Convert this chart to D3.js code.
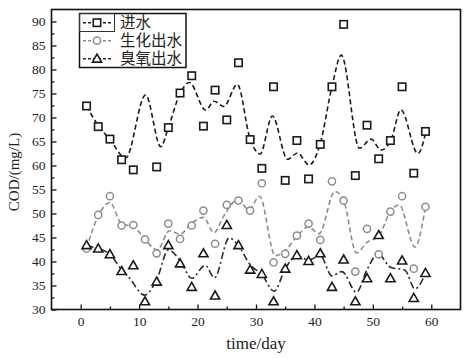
<!DOCTYPE html>
<html>
<head>
<meta charset="utf-8">
<script src="https://cdn.jsdelivr.net/npm/d3@7"></script>
<style>
  html, body { margin: 0; padding: 0; background: #fff; }
  svg { display: block; }
</style>
</head>
<body>
<svg id="chart" width="472" height="359"></svg>
<script>
// ---- data ----
const days = [1,3,5,7,9,11,13,15,17,19,21,23,25,27,29,31,33,35,37,39,41,43,45,47,49,51,53,55,57,59];
const influent = [72.4,68.1,65.5,61.2,59.1,null,59.7,67.9,75.1,78.7,68.2,75.7,69.5,81.4,65.4,59.4,76.4,56.9,65.2,57.2,64.4,76.4,89.4,57.9,68.4,61.4,65.2,76.4,58.4,67.1];
const bioEffluent = [42.7,49.7,53.6,47.5,47.6,44.6,41.7,47.9,44.7,47.5,50.6,43.7,51.8,52.7,50.6,56.3,39.8,41.6,45.4,47.9,44.5,56.7,52.7,37.9,46.8,41.5,50.4,53.6,38.5,51.4];
const ozoneEffluent = [43.4,42.7,41.5,38.0,39.2,31.7,35.8,43.4,39.6,34.7,41.7,32.9,47.6,43.4,38.3,37.4,31.7,38.5,41.3,40.1,41.7,34.7,40.4,31.7,36.5,45.5,36.5,40.2,32.4,37.6];

// smoothed curves as drawn in the picture
const influentFitDays = [1,3,5,7.7,11.1,13.7,15,17,18.6,21.4,22.8,24.5,26.8,29,30.7,32.8,35.4,37.1,39.1,41,43,44.6,47.7,49.7,51.4,53.1,54.8,57.7,59.1];
const influentFit = [72.4,68.3,65.4,61.6,74.7,63.9,67.9,75,77.3,71.5,73.4,72.3,76.9,65.5,62.4,70.3,61.3,62.6,60.1,64.6,76.4,83,63.6,65.5,63.2,65.3,71.6,62.5,67.1];
const bioFitDays = [1,3,5,7,9,11,13.1,15.2,17,19,21,22.8,24.5,26.8,28.8,30.6,33.3,35,37,39,40.8,43.5,45,47.2,49,51,53,54.5,57.2,59];
const bioFit = [42.7,49.5,52.3,47.8,47.3,44.6,42.4,46.4,45.7,48,49.2,46,49.5,52.8,50.8,53.6,41.2,42.3,45.2,47.2,45.8,54.6,52.7,41.8,44,45.3,50.4,51.8,43,51.4];
const ozoneFitDays = [1,3,5,7,8.2,10.9,13,15,17,19,21.3,22.9,25.4,27,29,31,33.1,35,37,39,41,43,44.7,47.2,49,50.9,53,55.5,57.2,59];
const ozoneFit = [43.2,42.7,41.5,38.3,36.8,33,36.2,42.4,40.2,36.5,39.2,36.6,44.9,43.3,39.3,37.3,33.8,38.5,41.2,40.3,41.2,37,37.9,33.6,38.3,41.6,38.8,38.2,34.3,37.5];

const seriesNames = ["进水", "生化出水", "臭氧出水"];
const xTicks = [0,10,20,30,40,50,60];
const yTicks = [30,35,40,45,50,55,60,65,70,75,80,85,90];
const xTitle = "time/day";
const yTitle = "COD/(mg/L)";

// ---- layout ----
const svg = d3.select("#chart");
const mLeft = 51.5, mRight = 460.5, mTop = 9.5, mBottom = 309.5;
const x = d3.scaleLinear().domain([-5, 65]).range([mLeft, mRight]);
const y = d3.scaleLinear().domain([30, 92.5]).range([mBottom, mTop]);

const serif = "'Liberation Serif', 'DejaVu Serif', serif";

// axes (inward ticks)
const xAxis = d3.axisBottom(x).tickValues(xTicks).tickSizeInner(-5).tickSizeOuter(0).tickPadding(7);
const xMinor = d3.axisBottom(x).tickValues(xTicks.map(v => v + 5).filter(v => v < 65)).tickSizeInner(-3).tickSizeOuter(0).tickFormat("");
const yAxis = d3.axisLeft(y).tickValues(yTicks).tickSizeInner(-5).tickSizeOuter(0).tickPadding(6);
const yMinor = d3.axisLeft(y).tickValues(yTicks.slice(0, -1).map(v => v + 2.5)).tickSizeInner(-3).tickSizeOuter(0).tickFormat("");

function styleAxis(g) {
  g.select(".domain").remove();
  g.selectAll(".tick line").attr("stroke", "#111").attr("stroke-width", 1.3);
  g.selectAll("text").attr("font-family", serif).attr("font-size", 13.5).attr("fill", "#222");
}
svg.append("g").attr("transform", `translate(0,${mBottom})`).call(xAxis).call(styleAxis);
svg.append("g").attr("transform", `translate(0,${mBottom})`).call(xMinor).call(styleAxis);
svg.append("g").attr("transform", `translate(${mLeft},0)`).call(yAxis).call(styleAxis);
svg.append("g").attr("transform", `translate(${mLeft},0)`).call(yMinor).call(styleAxis);

// frame
svg.append("rect").attr("x", mLeft).attr("y", mTop).attr("width", mRight - mLeft).attr("height", mBottom - mTop)
  .attr("fill", "none").attr("stroke", "#111").attr("stroke-width", 1.6);

// titles
svg.append("text").attr("x", (mLeft + mRight) / 2).attr("y", 349).attr("text-anchor", "middle")
  .attr("font-family", serif).attr("font-size", 17).attr("fill", "#222").text(xTitle);
svg.append("text").attr("transform", "translate(19,172) rotate(-90)").attr("text-anchor", "middle")
  .attr("font-family", serif).attr("font-size", 15).attr("fill", "#222").text(yTitle);

// curves
const line = d3.line().x(d => x(d[0])).y(d => y(d[1])).curve(d3.curveMonotoneX);
const styles = [
  { stroke: "#1a1a1a", dash: "5,3", mark: "#1a1a1a", type: "square" },
  { stroke: "#8c8c8c", dash: "5,3", mark: "#8c8c8c", type: "circle" },
  { stroke: "#2a2a2a", dash: "7,3,2,3", mark: "#1a1a1a", type: "triangle" }
];
const fits = [
  d3.zip(influentFitDays, influentFit),
  d3.zip(bioFitDays, bioFit),
  d3.zip(ozoneFitDays, ozoneFit)
];
fits.forEach((f, i) => {
  svg.append("path").datum(f).attr("d", line).attr("fill", "none")
    .attr("stroke", styles[i].stroke).attr("stroke-width", 1.6).attr("stroke-dasharray", styles[i].dash);
});

// markers
function drawMarker(g, type, cx, cy, color) {
  if (type === "square") {
    g.append("rect").attr("x", cx - 3.7).attr("y", cy - 3.7).attr("width", 7.4).attr("height", 7.4)
      .attr("fill", "#fff").attr("stroke", color).attr("stroke-width", 1.6);
  } else if (type === "circle") {
    g.append("circle").attr("cx", cx).attr("cy", cy).attr("r", 3.6)
      .attr("fill", "#fff").attr("stroke", color).attr("stroke-width", 1.5);
  } else {
    const s = 4.6;
    g.append("path").attr("d", `M${cx},${cy - s}L${cx + s},${cy + s * 0.75}L${cx - s},${cy + s * 0.75}Z`)
      .attr("fill", "#fff").attr("stroke", color).attr("stroke-width", 1.6);
  }
}
const seriesValues = [influent, bioEffluent, ozoneEffluent];
const markG = svg.append("g");
seriesValues.forEach((vals, i) => {
  days.forEach((d, j) => {
    if (vals[j] == null) return;
    drawMarker(markG, styles[i].type, x(d), y(vals[j]), styles[i].mark);
  });
});

// legend
const lg = svg.append("g");
lg.append("rect").attr("x", 79.5).attr("y", 13.5).attr("width", 106.5).attr("height", 54)
  .attr("fill", "#fff").attr("stroke", "#111").attr("stroke-width", 1.5);
lg.append("rect").attr("x", 79.5).attr("y", 13.5).attr("width", 35).attr("height", 18)
  .attr("fill", "none").attr("stroke", "#333").attr("stroke-width", 1);
const rowsY = [22.7, 40.7, 58.7];
seriesNames.forEach((name, i) => {
  lg.append("line").attr("x1", 83).attr("x2", 111).attr("y1", rowsY[i]).attr("y2", rowsY[i])
    .attr("stroke", styles[i].stroke).attr("stroke-width", 1.5).attr("stroke-dasharray", "3,2");
  drawMarker(lg, styles[i].type, 97, rowsY[i], styles[i].mark);
  lg.append("text").attr("x", 120).attr("y", rowsY[i] + 5.6)
    .attr("font-family", "'Noto Sans CJK SC', sans-serif").attr("font-size", 15.5).attr("fill", "#222")
    .attr("transform", `translate(0,${rowsY[i]}) scale(1,0.8) translate(0,${-rowsY[i]})`)
    .attr("transform", null)
    .attr("textLength", null)
    .text(name);
});
</script>
</body>
</html>
